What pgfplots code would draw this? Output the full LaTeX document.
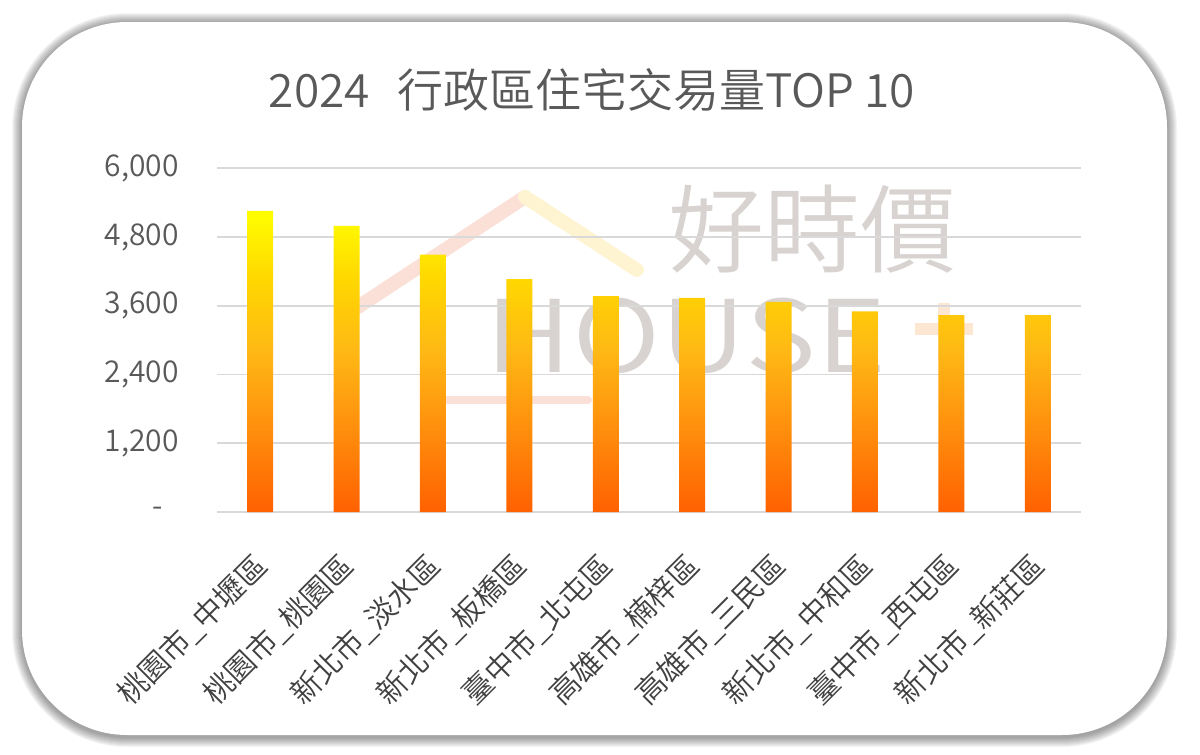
\documentclass[border=0pt]{standalone}
\usepackage{fontspec}
\setmainfont{Noto Sans CJK TC}[UprightFont={* DemiLight}]
\usepackage{pgfplots}
\usepackage{pgfplotstable}
\pgfplotsset{compat=1.18}

\definecolor{gridgray}{HTML}{D9D9D9}
\definecolor{txtgray}{HTML}{595959}
\definecolor{lblgray}{HTML}{404040}
\definecolor{wmgray}{HTML}{D8D3D0}
\definecolor{roofL}{HTML}{FBE0D8}
\definecolor{roofR}{HTML}{FFF4D2}
\definecolor{plusor}{HTML}{FDE6D2}
\definecolor{barY}{HTML}{FFFF00}
\definecolor{barG}{HTML}{FFD800}
\definecolor{barA}{HTML}{FFB915}
\definecolor{barO}{HTML}{FF8C0C}
\definecolor{barR}{HTML}{FF6100}
\pgfdeclareverticalshading{barfill}{100bp}{color(0bp)=(barR); color(25bp)=(barR);
  color(38bp)=(barO); color(52bp)=(barA); color(64bp)=(barG); color(75bp)=(barY); color(100bp)=(barY)}

% transactions per district, 2024
\pgfplotstableread{
idx val
0 5255
1 4993
2 4492
3 4067
4 3770
5 3740
6 3670
7 3502
8 3438
9 3438
}\tradedata

\begin{document}
\begin{tikzpicture}
\begin{scope}[x=0.5pt,y=-0.5pt]
  \useasboundingbox (0,0) rectangle (1200,755);
  % card with soft shadow
  \foreach \d in {1,...,10}{
    \pgfmathsetmacro\rr{52.5+0.5*\d}
    \fill[black,opacity=0.045,rounded corners=\rr pt] (22-\d,23-\d) rectangle (1167+\d,737+\d);
  }
  \fill[white,rounded corners=52.5pt] (22,22) rectangle (1167,735);
  % watermark
  \draw[roofL,line width=7pt,line cap=round] (358,307) -- (525,197);
  \draw[roofR,line width=7pt,line cap=round] (525,197) -- (637,270);
  \draw[roofL,line width=4pt,line cap=round] (447,400) -- (588,400);
  \node[anchor=base west,inner sep=0pt,text=wmgray,font=\fontsize{48pt}{50pt}\selectfont] at (668,265) {好時價};
  \node[anchor=base west,inner sep=0pt,text=wmgray,xscale=1.2,font=\fontsize{50pt}{52pt}\selectfont] at (485,372) {HOUSE};
  \draw[plusor,line width=6pt] (915,329) -- (973,329);
  \draw[plusor,line width=6pt] (944,303) -- (944,360);
  % title
  \node[anchor=base,inner sep=0pt,text=txtgray,font=\fontsize{23pt}{26pt}\selectfont] at (592,107)
    {2024\hspace{0.6em}行政區住宅交易量TOP 10};
\end{scope}

\begin{axis}[
  at={(108.5pt,-256pt)}, anchor=south west,
  scale only axis, width=432pt, height=171.85pt,
  xmin=-0.5, xmax=9.5, ymin=0, ymax=6000,
  axis line style={draw=none},
  major tick length=0pt,
  ymajorgrids, grid style={gridgray, line width=0.9pt},
  ytick={0,1200,2400,3600,4800,6000},
  yticklabels={-\hspace*{8pt},{1,200},{2,400},{3,600},{4,800},{6,000}},
  xtick=data,
  xticklabels={桃園市\_中壢區,桃園市\_桃園區,新北市\_淡水區,新北市\_板橋區,臺中市\_北屯區,
    高雄市\_楠梓區,高雄市\_三民區,新北市\_中和區,臺中市\_西屯區,新北市\_新莊區},
  yticklabel style={font=\fontsize{15pt}{18pt}\selectfont, text=txtgray, inner sep=0pt, xshift=-19pt},
  xticklabel style={font=\fontsize{15pt}{18pt}\selectfont, text=lblgray, inner sep=0pt,
    xshift=1pt, yshift=-24pt, rotate=45, anchor=east},
  clip=false,
]
\addplot[ybar, bar width=13pt, draw=none, shading=barfill] table[x=idx,y=val]{\tradedata};
\end{axis}
\end{tikzpicture}
\end{document}
